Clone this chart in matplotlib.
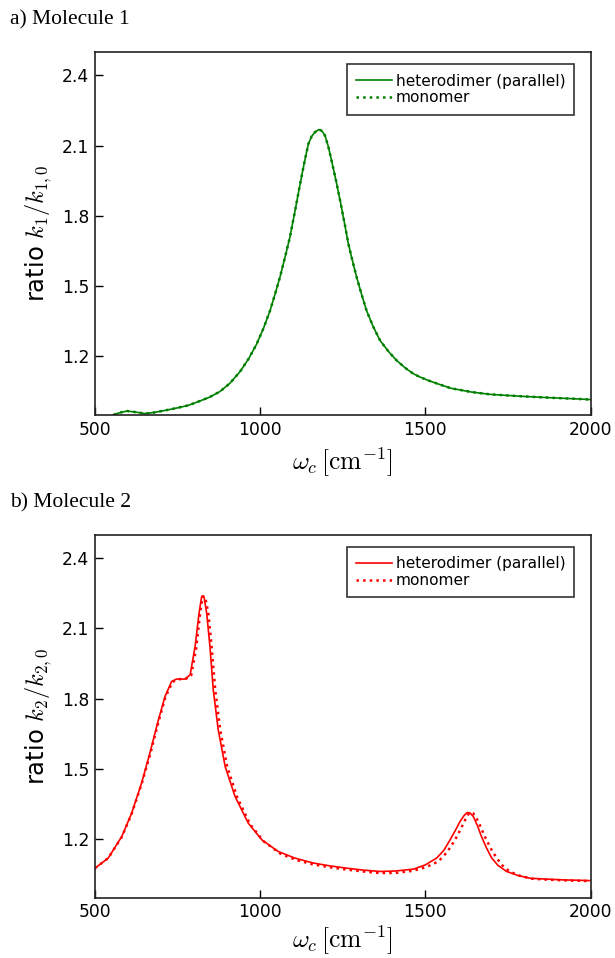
import matplotlib
matplotlib.use("Agg")
import matplotlib.pyplot as plt

plt.rcParams['mathtext.fontset'] = 'cm'
plt.rcParams['font.family'] = ['DejaVu Sans']

# ---- Data: Molecule 1 ----
w1 = [500, 550, 575, 597, 625, 651, 680, 710, 745, 782, 818, 848, 878, 908, 939, 965,
      989, 1010, 1030, 1045, 1060, 1075, 1090, 1106, 1121, 1134, 1146, 1156, 1166, 1178,
      1187, 1196, 1206, 1216, 1229, 1242, 1255, 1267, 1280, 1292, 1307, 1322, 1342, 1363,
      1388, 1413, 1440, 1464, 1484, 1510, 1540, 1578, 1640, 1697, 1790, 1875, 1940, 2000]
het1 = [0.925, 0.948, 0.960, 0.967, 0.962, 0.956, 0.961, 0.969, 0.979, 0.991, 1.010, 1.027,
        1.050, 1.085, 1.135, 1.190, 1.252, 1.320, 1.396, 1.466, 1.539, 1.622, 1.709, 1.825,
        1.937, 2.030, 2.108, 2.140, 2.158, 2.169, 2.163, 2.144, 2.098, 2.037, 1.955, 1.866,
        1.772, 1.681, 1.605, 1.539, 1.465, 1.396, 1.328, 1.268, 1.222, 1.183, 1.150, 1.126,
        1.112, 1.097, 1.082, 1.064, 1.048, 1.038, 1.030, 1.024, 1.020, 1.016]
mono1 = list(het1)

# ---- Data: Molecule 2 ----
w2h = [500, 540, 581, 611, 641, 666, 692, 712, 732, 747, 772, 788, 803, 815, 823, 830,
       838, 848, 858, 873, 894, 924, 964, 1005, 1055, 1105, 1161, 1210, 1262, 1310, 1363,
       1410, 1464, 1500, 1534, 1556, 1575, 1592, 1605, 1617, 1627, 1636, 1645, 1657, 1670,
       1686, 1701, 1720, 1746, 1780, 1817, 1870, 1918, 2000]
het2 = [1.076, 1.119, 1.211, 1.311, 1.439, 1.567, 1.709, 1.809, 1.873, 1.883, 1.883, 1.901,
        2.022, 2.165, 2.236, 2.233, 2.165, 2.022, 1.837, 1.667, 1.510, 1.382, 1.268, 1.197,
        1.147, 1.119, 1.098, 1.086, 1.076, 1.068, 1.062, 1.064, 1.072, 1.090, 1.119, 1.152,
        1.197, 1.240, 1.275, 1.300, 1.314, 1.311, 1.297, 1.260, 1.211, 1.160, 1.119, 1.088,
        1.062, 1.045, 1.033, 1.029, 1.026, 1.023]
w2m = [500, 540, 581, 611, 641, 667, 693, 713, 734, 750, 775, 791, 806, 818, 826, 833,
       843, 853, 864, 879, 900, 930, 970, 1011, 1061, 1111, 1161, 1210, 1262, 1310, 1363,
       1410, 1464, 1505, 1540, 1566, 1590, 1606, 1618, 1627, 1635, 1644, 1652, 1665, 1680,
       1698, 1716, 1733, 1755, 1785, 1822, 1870, 1918, 2000]
mono2 = [1.076, 1.119, 1.209, 1.308, 1.435, 1.562, 1.705, 1.805, 1.870, 1.882, 1.884, 1.898,
         2.012, 2.160, 2.236, 2.236, 2.165, 2.022, 1.837, 1.667, 1.510, 1.380, 1.262, 1.190,
         1.138, 1.110, 1.092, 1.080, 1.070, 1.062, 1.055, 1.056, 1.065, 1.082, 1.105, 1.145,
         1.197, 1.240, 1.275, 1.300, 1.314, 1.311, 1.297, 1.260, 1.211, 1.160, 1.119, 1.088,
         1.062, 1.044, 1.031, 1.027, 1.024, 1.021]

xticks = [500, 1000, 1500, 2000]
yticks = [1.2, 1.5, 1.8, 2.1, 2.4]
xlim = (500, 2000)
ylim = (0.95, 2.5)

panel_titles = ["a) Molecule 1", "b) Molecule 2"]
ylabels = [r"ratio $k_1/k_{1,0}$", r"ratio $k_2/k_{2,0}$"]
xlabel = r"$\omega_c\,[\mathrm{cm}^{-1}]$"
legend_labels = ["heterodimer (parallel)", "monomer"]

fig = plt.figure(figsize=(6.15, 9.58), dpi=100)
W, H = 615.0, 958.0
ax1 = fig.add_axes([95 / W, 1 - 415 / H, 495.5 / W, 363 / H])
ax2 = fig.add_axes([95 / W, 1 - 897.7 / H, 495.5 / W, 363.2 / H])

panels = [
    (ax1, w1, het1, w1, mono1, 'green', 5),
    (ax2, w2h, het2, w2m, mono2, 'red', 1.5),
]

for i, (ax, xh, yh, xm, ym, col, xpad) in enumerate(panels):
    ax.plot(xh, yh, '-', color=col, lw=1.2, label=legend_labels[0])
    ax.plot(xm, ym, ':', color=col, lw=1.8, label=legend_labels[1])
    ax.set_xlim(*xlim)
    ax.set_ylim(*ylim)
    ax.set_xticks(xticks)
    ax.set_yticks(yticks)
    ax.set_xticklabels([str(t) for t in xticks])
    ax.set_yticklabels([f"{t:.1f}" for t in yticks])
    ax.tick_params(direction='in', length=6, width=1, labelsize=12.3,
                   top=False, right=False, pad=4)
    for s in ax.spines.values():
        s.set_linewidth(1.2)
        s.set_color('#222222')
    ax.set_ylabel(ylabels[i], fontsize=17.5, labelpad=6)
    ax.set_xlabel(xlabel, fontsize=18.5, labelpad=xpad)
    leg = ax.legend(loc='upper right', bbox_to_anchor=(0.9675, 0.966),
                    fontsize=11.1, frameon=True, fancybox=False,
                    handlelength=2.3, handletextpad=0.25, borderpad=0.6,
                    labelspacing=0.12, borderaxespad=0.0)
    leg.get_frame().set_edgecolor('black')
    leg.get_frame().set_linewidth(1.2)

fig.text(10 / W, 1 - 20 / H, panel_titles[0], family='Liberation Serif',
         fontsize=15.5, va='center', ha='left')
fig.text(10 / W, 1 - 503 / H, panel_titles[1], family='Liberation Serif',
         fontsize=15.5, va='center', ha='left')

fig.savefig("out.png", dpi=100)
